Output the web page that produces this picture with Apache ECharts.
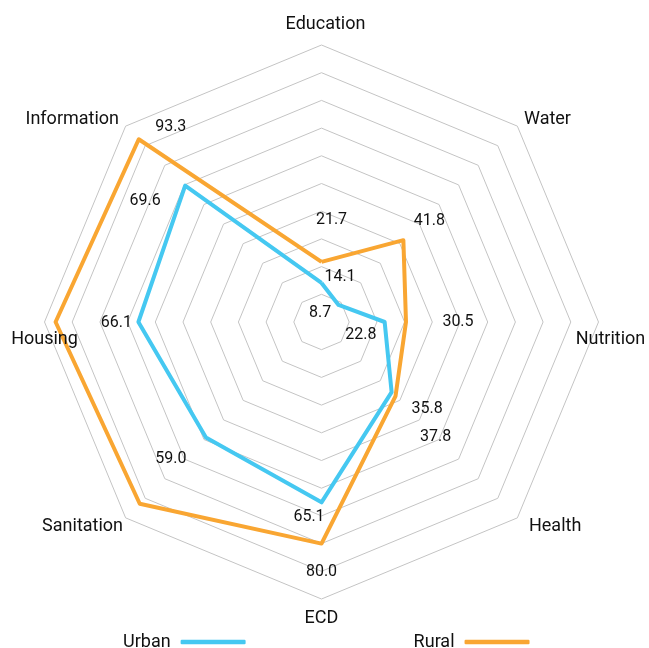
<!DOCTYPE html>
<html><head><meta charset="utf-8">
<script src="https://cdn.jsdelivr.net/npm/echarts@6/dist/echarts.min.js"></script>
<style>html,body{margin:0;padding:0;background:#fff}#c{width:649px;height:648px}</style>
</head><body><div id="c"></div>
<script>
// ---- data ----
const indicators = ['Education', 'Information', 'Housing', 'Sanitation', 'ECD', 'Health', 'Nutrition', 'Water'];
const urban = [14.1, 69.6, 66.1, 59.0, 65.1, 35.8, 22.8, 8.7];
const rural = [21.7, 93.3, 96.0, 92.8, 80.0, 37.8, 30.5, 41.8];
const seriesNames = ['Urban', 'Rural'];
const maxValue = 100;
const splitCount = 10;

// ---- styling / layout (not data) ----
const C = [321.5, 322], R = 277;
const FONT = 'Roboto';
const TEXT = '#111111';
const colors = ['#45C8F1', '#F9A632'];
// value label offsets [dx, dy] from each point; null = hidden
const urbanLabelOffsets = [[18.5, -6], [-40, 15], [-22, 1], [-35, 21.5], [-12.5, 14.7], [35.4, 17], [-23.7, 13], [-18.5, 8]];
const ruralLabelOffsets = [[10, -42], [32, -12], null, null, [0, 28], [40, 40.7], [52, 0], [26, -19]];
// axis name placement relative to outer vertex
const nameStyles = [
  {off: [4, -21], align: 'center'},
  {off: [-6.6, -7], align: 'right'},
  {off: [0, 17], align: 'center'},
  {off: [-2.6, 9], align: 'right'},
  {off: [0, 19], align: 'center'},
  {off: [11.6, 9], align: 'left'},
  {off: [-22.8, 17], align: 'left'},
  {off: [6.6, -7], align: 'left'}
];

function valueLabelData(values, offsets) {
  const out = [];
  values.forEach((v, i) => {
    if (!offsets[i]) return;
    out.push({value: [v, i], label: {offset: offsets[i]}});
  });
  return out;
}
const nameData = indicators.map((n, i) => ({
  name: n, value: [maxValue, i],
  label: {offset: nameStyles[i].off, align: nameStyles[i].align}
}));

const chart = echarts.init(document.getElementById('c'));
const labelBase = {
  show: true, position: 'inside', color: TEXT, opacity: 1,
  textBorderWidth: 0, textShadowBlur: 0,
  fontFamily: FONT, fontSize: 16, verticalAlign: 'middle'
};
const hiddenItem = {color: '#000', opacity: 0};
chart.setOption({
  animation: false,
  color: colors,
  legend: {
    data: seriesNames, left: 123, top: 633, padding: 0,
    itemGap: 168, align: 'right', itemWidth: 65, itemHeight: 4.5, icon: 'roundRect',
    textStyle: {fontFamily: FONT, fontSize: 18, color: TEXT, padding: [0, 5, 0, 0]}
  },
  radar: {
    center: C, radius: R, startAngle: 90, shape: 'polygon', splitNumber: splitCount,
    indicator: indicators.map(n => ({name: n, max: maxValue, min: 0})),
    axisName: {show: false},
    axisLine: {show: false},
    axisTick: {show: false},
    splitArea: {show: false},
    splitLine: {lineStyle: {color: '#c4c4c4', width: 1}}
  },
  polar: {center: C, radius: R},
  angleAxis: {type: 'category', data: indicators, startAngle: 90, clockwise: false, boundaryGap: false, show: false},
  radiusAxis: {min: 0, max: maxValue, show: false},
  series: [
    {
      type: 'radar', name: seriesNames[0], symbol: 'none',
      lineStyle: {width: 4, color: colors[0]}, itemStyle: {color: colors[0]},
      data: [{name: seriesNames[0], value: urban}]
    },
    {
      type: 'radar', name: seriesNames[1], symbol: 'none',
      lineStyle: {width: 4, color: colors[1]}, itemStyle: {color: colors[1]},
      data: [{name: seriesNames[1], value: rural}]
    },
    {
      type: 'scatter', name: 'urbanLabels', coordinateSystem: 'polar', symbolSize: 1,
      itemStyle: hiddenItem, silent: true, z: 5,
      label: Object.assign({}, labelBase, {formatter: p => p.value[0].toFixed(1)}),
      data: valueLabelData(urban, urbanLabelOffsets)
    },
    {
      type: 'scatter', name: 'ruralLabels', coordinateSystem: 'polar', symbolSize: 1,
      itemStyle: hiddenItem, silent: true, z: 5,
      label: Object.assign({}, labelBase, {formatter: p => p.value[0].toFixed(1)}),
      data: valueLabelData(rural, ruralLabelOffsets)
    },
    {
      type: 'scatter', name: 'axisNames', coordinateSystem: 'polar', symbolSize: 1,
      itemStyle: hiddenItem, silent: true, z: 5,
      label: Object.assign({}, labelBase, {fontSize: 18, formatter: '{b}'}),
      data: nameData
    }
  ]
});
</script></body></html>
